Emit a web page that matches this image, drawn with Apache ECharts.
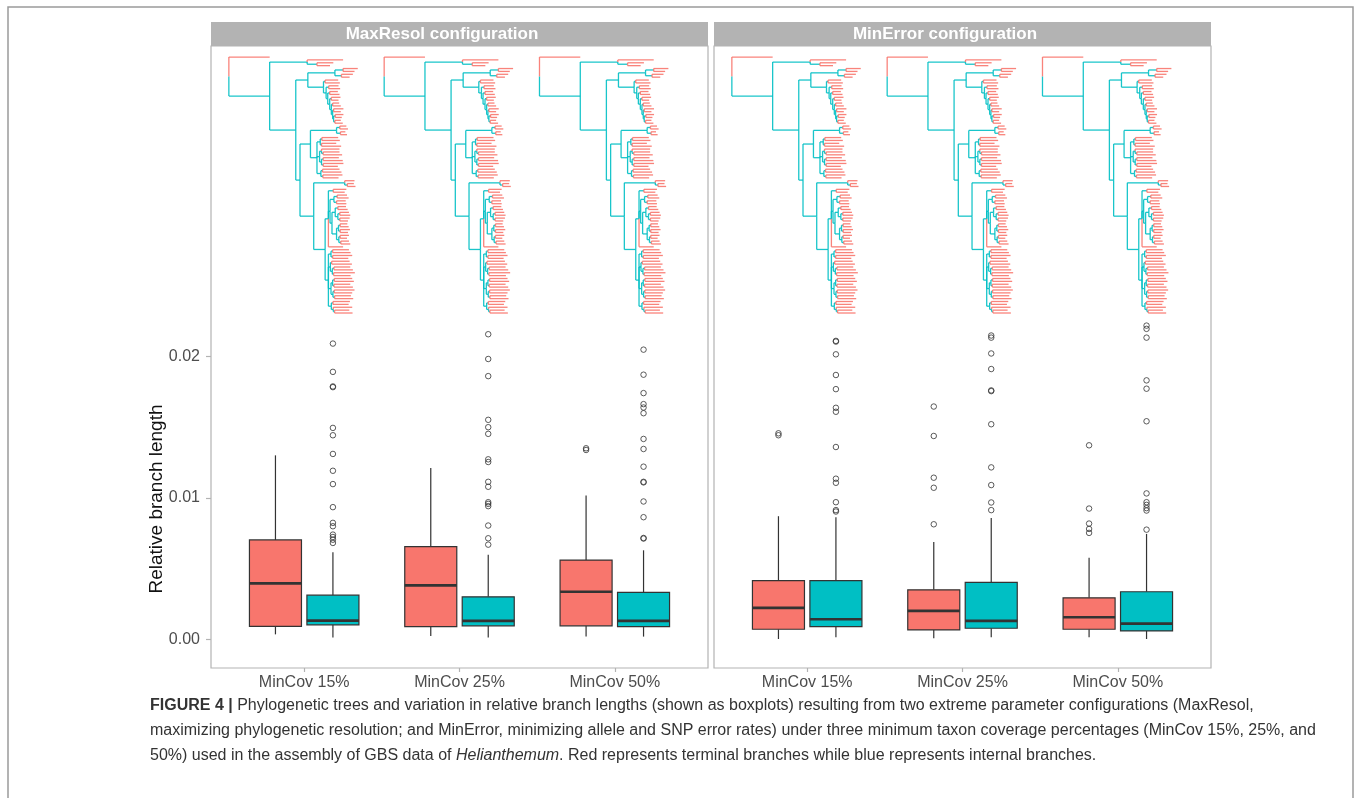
<!DOCTYPE html>
<html><head><meta charset="utf-8">
<script src="https://cdn.jsdelivr.net/npm/echarts@6/dist/echarts.min.js"></script>
<style>html,body{margin:0;padding:0;background:#fff}#c{width:1357px;height:798px}</style>
</head><body><div id="c"></div>
<script>
// ---------- DATA ----------
const categories = ['MinCov 15%', 'MinCov 25%', 'MinCov 50%'];
const panelTitles = ['MaxResol configuration', 'MinError configuration'];
const yTickValues = [0, 0.01, 0.02];
const yAxisTitle = 'Relative branch length';

// box stats per category: [lower whisker, Q1, median, Q3, upper whisker]
const maxResolTerminal = [[0.00035, 0.00092, 0.00395, 0.00702, 0.0130], [0.00024, 0.0009, 0.00381, 0.00655, 0.0121], [0.00019, 0.00095, 0.00336, 0.0056, 0.01017]];
const maxResolInternal = [[0.00012, 0.00102, 0.00132, 0.00312, 0.00615], [0.00012, 0.00095, 0.0013, 0.003, 0.00598], [0.00019, 0.0009, 0.0013, 0.00331, 0.00629]];
const minErrorTerminal = [[0.00002, 0.00071, 0.00222, 0.00414, 0.0087], [0.00007, 0.00066, 0.00201, 0.0035, 0.00688], [0.00014, 0.00071, 0.00156, 0.00293, 0.00577]];
const minErrorInternal = [[0.00014, 0.0009, 0.00142, 0.00414, 0.00863], [0.00014, 0.00078, 0.0013, 0.00402, 0.00858], [0.00002, 0.00059, 0.00111, 0.00336, 0.00745]];

// outliers per category
const maxResolTerminalOut = [[], [], [0.0135, 0.01338]];
const maxResolInternalOut = [
  [0.0209, 0.0189, 0.01787, 0.01782, 0.01494, 0.01442, 0.0131, 0.01191, 0.01097, 0.00934, 0.00823, 0.00799, 0.0074, 0.00723, 0.00704, 0.00681],
  [0.02156, 0.01981, 0.0186, 0.01551, 0.01499, 0.01452, 0.01272, 0.01253, 0.01113, 0.01078, 0.00969, 0.00957, 0.00941, 0.00804, 0.00714, 0.00669],
  [0.02047, 0.0187, 0.0174, 0.01662, 0.01638, 0.01598, 0.01416, 0.01345, 0.0122, 0.01113, 0.01109, 0.00974, 0.00863, 0.00716, 0.00712]];
const minErrorTerminalOut = [[0.01456, 0.01442], [0.01645, 0.01437, 0.01142, 0.01071, 0.00813], [0.01371, 0.00924, 0.00818, 0.0078, 0.00752]];
const minErrorInternalOut = [
  [0.02109, 0.02104, 0.02014, 0.01868, 0.01768, 0.01636, 0.01608, 0.01359, 0.01135, 0.01106, 0.00969, 0.00913, 0.00903],
  [0.02147, 0.02132, 0.0202, 0.0191, 0.01759, 0.01754, 0.0152, 0.01215, 0.0109, 0.00967, 0.00913],
  [0.02217, 0.02194, 0.02132, 0.0183, 0.01771, 0.01541, 0.01031, 0.00969, 0.0095, 0.00927, 0.0091, 0.00775]];

// phylogeny (Newick clades, branch lengths)
const cladeA = '(:110,(:50,:40):30):115';
const cladeB = '((:45,:35):25,(:35,:25):20):83';
const cladeC = '((:40,:45):5,((:30,:35):8,((:25,:30):6,((:28,:22):5,((:20,:25):4,((:30,:22):3,((:25,:20):5,(:18,:24):4):3):4):5):6):5):8):48';
const cladeD = '((:20,:25):10,(:15,:20):12):80';
const cladeE = '(((:50,:55):5,(:45,:60):4):10,((:55,(:50,:58):5):6,((:48,:60):5,(:62,:45):5):6):8,((:52,:58):5,(:60,:48):6):12):20';
const cladeF = '(:30,(:20,:25):8):95';
const cladeG = '((:40,:35):15,(((:30,:35):10,(:28,:30):8):12,(((:25,:30):8,((:28,:32):6,(:30,:25):6):8):10,(((:22,:26):5,(:30,:24):5):6,((:27,:21):4,(:25,:29):6):7):14):6):5,:45):10';
const cladeH = '(((:50,:55):5,(:60,:48):5):8,((:55,:62):4,((:50,:58):5,(:65,:52):4):6):6,(((:55,:60):5,(:50,:58):4):5,((:62,:55):4,(:50,:57):5):6):8,((:52,:48):5,(:58,(:45,:55):4):6):9):10';
const outgroupLength = 125, ingroupLength = 125;
const stem = {n3: 80, n4: 37, n7: 13, n8: 32, n9: 42, n11: 35};

const caption = [
  '{b|FIGURE 4 |} Phylogenetic trees and variation in relative branch lengths (shown as boxplots) resulting from two extreme parameter configurations (MaxResol,',
  'maximizing phylogenetic resolution; and MinError, minimizing allele and SNP error rates) under three minimum taxon coverage percentages (MinCov 15%, 25%, and',
  '50%) used in the assembly of GBS data of {i|Helianthemum}. Red represents terminal branches while blue represents internal branches.'
];

// ---------- STYLE / LAYOUT ----------
const RED = '#F8766D', CYAN = '#00BFC4', INK = '#333333', GREY = '#B3B3B3';
const FONT = 'Liberation Sans, Arial, Helvetica, sans-serif';
const BOX_W = 0.335, DODGE = 0.185;
const TREE_X0 = -0.485, TREE_SPAN = 0.83, TREE_TOP = 0.04115, TREE_BOTTOM = 0.02306;

// ---------- TREE ----------
const newick = '(:' + outgroupLength + ',(' + cladeA + ',((' + cladeB + ',' + cladeC + '):' + stem.n4 +
  ',((' + cladeD + ',' + cladeE + '):' + stem.n8 + ',(' + cladeF + ',(' + cladeG + ',' + cladeH + '):' + stem.n11 + '):' + stem.n9 +
  '):' + stem.n7 + '):' + stem.n3 + '):' + ingroupLength + ');';

function parseNewick(s) {
  let i = 0;
  function node() {
    const n = {children: [], len: 0};
    if (s[i] === '(') {
      i++;
      n.children.push(node());
      while (s[i] === ',') { i++; n.children.push(node()); }
      i++;
    }
    while (i < s.length && !':,();'.includes(s[i])) i++;
    if (s[i] === ':') {
      i++; let num = '';
      while (i < s.length && !',();'.includes(s[i])) num += s[i++];
      n.len = parseFloat(num);
    }
    return n;
  }
  return node();
}
function layoutTree(root) {
  let tip = 0, maxDepth = 0;
  (function walk(n, depth) {
    n.depth = depth + n.len;
    if (!n.children.length) { n.row = tip++; }
    else {
      n.children.forEach(c => walk(c, n.depth));
      n.row = (n.children[0].row + n.children[n.children.length - 1].row) / 2;
    }
    maxDepth = Math.max(maxDepth, n.depth);
  })(root, -root.len);
  return {nTips: tip, maxDepth};
}
const treeRoot = parseNewick(newick);
const treeInfo = layoutTree(treeRoot);
function treeSegments(center) {
  const segs = [];
  const sx = TREE_SPAN / treeInfo.maxDepth;
  const sy = (TREE_TOP - TREE_BOTTOM) / (treeInfo.nTips - 1);
  const X = d => center + TREE_X0 + d * sx;
  const Y = r => TREE_TOP - r * sy;
  (function walk(n) {
    n.children.forEach(c => {
      const tipFlag = c.children.length ? 0 : 1;
      segs.push([X(n.depth), Y(n.row), X(n.depth), Y(c.row), tipFlag]);
      segs.push([X(n.depth), Y(c.row), X(c.depth), Y(c.row), tipFlag]);
      walk(c);
    });
  })(treeRoot);
  return segs;
}

// ---------- SERIES BUILDERS ----------
function boxSeries(stats, color, offset, gi) {
  return {
    type: 'custom', xAxisIndex: gi, yAxisIndex: gi, z: 3,
    data: stats.map((s, i) => [i + 1, s[0], s[1], s[2], s[3], s[4]]),
    encode: {x: 0, y: [1, 2, 3, 4, 5]},
    renderItem(params, api) {
      const x = api.value(0) + offset;
      const pMin = api.coord([x, api.value(1)]);
      const pQ1 = api.coord([x, api.value(2)]);
      const pMed = api.coord([x, api.value(3)]);
      const pQ3 = api.coord([x, api.value(4)]);
      const pMax = api.coord([x, api.value(5)]);
      const w = api.size([BOX_W, 0])[0];
      const cx = pMin[0];
      return {type: 'group', children: [
        {type: 'line', shape: {x1: cx, y1: pMax[1], x2: cx, y2: pQ3[1]}, style: {stroke: INK, lineWidth: 1.2}},
        {type: 'line', shape: {x1: cx, y1: pQ1[1], x2: cx, y2: pMin[1]}, style: {stroke: INK, lineWidth: 1.2}},
        {type: 'rect', shape: {x: cx - w / 2, y: pQ3[1], width: w, height: pQ1[1] - pQ3[1]}, style: {fill: color, stroke: INK, lineWidth: 1.2}},
        {type: 'line', shape: {x1: cx - w / 2, y1: pMed[1], x2: cx + w / 2, y2: pMed[1]}, style: {stroke: INK, lineWidth: 2.6}}
      ]};
    }
  };
}
function outlierSeries(outs, offset, gi) {
  const data = [];
  outs.forEach((arr, i) => arr.forEach(v => data.push([i + 1 + offset, v])));
  return {
    type: 'scatter', xAxisIndex: gi, yAxisIndex: gi, z: 4, data,
    symbol: 'circle', symbolSize: 5.5,
    itemStyle: {color: 'rgba(255,255,255,0)', borderColor: INK, borderWidth: 1}
  };
}
function treeSeries(gi) {
  const data = [];
  [1, 2, 3].forEach(c => treeSegments(c).forEach(s => data.push(s)));
  return {
    type: 'custom', xAxisIndex: gi, yAxisIndex: gi, z: 2, data,
    encode: {x: [0, 2], y: [1, 3]},
    renderItem(params, api) {
      const a = api.coord([api.value(0), api.value(1)]);
      const b = api.coord([api.value(2), api.value(3)]);
      return {type: 'line', shape: {x1: a[0], y1: a[1], x2: b[0], y2: b[1]},
        style: {stroke: api.value(4) ? RED : CYAN, lineWidth: 1.3, opacity: 0.9}};
    }
  };
}

// ---------- CHART ----------
const grids = [{left: 211, top: 46, width: 497, height: 622}, {left: 714, top: 46, width: 497, height: 622}];
const Y_MIN = -0.002028, Y_MAX = 0.04193;

const option = {
  backgroundColor: '#fff',
  animation: false,
  textStyle: {fontFamily: FONT},
  grid: grids.map(g => Object.assign({show: true, borderColor: GREY, borderWidth: 1.2, backgroundColor: '#fff'}, g)),
  xAxis: grids.map((g, gi) => ({
    type: 'value', gridIndex: gi, min: 0.4, max: 3.6, position: 'bottom',
    axisLine: {show: false, onZero: false}, splitLine: {show: false},
    axisTick: {show: true, customValues: [1, 2, 3], length: 4, lineStyle: {color: GREY, width: 1.2}},
    axisLabel: {customValues: [1, 2, 3], formatter: v => categories[Math.round(v) - 1], color: '#4D4D4D', fontSize: 16, margin: 7, fontFamily: FONT}
  })),
  yAxis: grids.map((g, gi) => ({
    type: 'value', gridIndex: gi, min: Y_MIN, max: Y_MAX, position: 'left',
    axisLine: {show: false, onZero: false}, splitLine: {show: false},
    axisTick: {show: gi === 0, customValues: yTickValues, length: 5, lineStyle: {color: GREY, width: 1.2}},
    axisLabel: {show: gi === 0, customValues: yTickValues, formatter: v => v.toFixed(2), color: '#4D4D4D', fontSize: 16, margin: 11, fontFamily: FONT}
  })),
  series: [
    treeSeries(0), treeSeries(1),
    boxSeries(maxResolTerminal, RED, -DODGE, 0),
    boxSeries(maxResolInternal, CYAN, DODGE, 0),
    boxSeries(minErrorTerminal, RED, -DODGE, 1),
    boxSeries(minErrorInternal, CYAN, DODGE, 1),
    outlierSeries(maxResolTerminalOut, -DODGE, 0),
    outlierSeries(maxResolInternalOut, DODGE, 0),
    outlierSeries(minErrorTerminalOut, -DODGE, 1),
    outlierSeries(minErrorInternalOut, DODGE, 1)
  ],
  graphic: [
    {type: 'rect', shape: {x: 8, y: 7, width: 1345, height: 820}, style: {fill: 'none', stroke: '#9a9a9a', lineWidth: 1.5}, silent: true},
    {type: 'rect', shape: {x: 211, y: 22, width: 497, height: 24}, style: {fill: GREY}},
    {type: 'rect', shape: {x: 714, y: 22, width: 497, height: 24}, style: {fill: GREY}},
    {type: 'text', x: 442, y: 34, style: {text: panelTitles[0], fill: '#fff', font: 'bold 17px ' + FONT, align: 'center', verticalAlign: 'middle'}},
    {type: 'text', x: 945, y: 34, style: {text: panelTitles[1], fill: '#fff', font: 'bold 17px ' + FONT, align: 'center', verticalAlign: 'middle'}},
    {type: 'text', x: 157, y: 499, rotation: Math.PI / 2, style: {text: yAxisTitle, fill: '#111', font: '19px ' + FONT, align: 'center', verticalAlign: 'middle'}},
    ...caption.map((t, k) => ({
      type: 'text', x: 150, y: 706 + k * 25,
      style: {text: t, fill: '#333', font: '16px ' + FONT, align: 'left', verticalAlign: 'middle',
        rich: {b: {fontWeight: 'bold', fontSize: 16, fontFamily: FONT, fill: '#333'}, i: {fontStyle: 'italic', fontSize: 16, fontFamily: FONT, fill: '#333'}}}
    }))
  ]
};
const chart = echarts.init(document.getElementById('c'), null, {renderer: 'canvas'});
chart.setOption(option);
</script></body></html>
